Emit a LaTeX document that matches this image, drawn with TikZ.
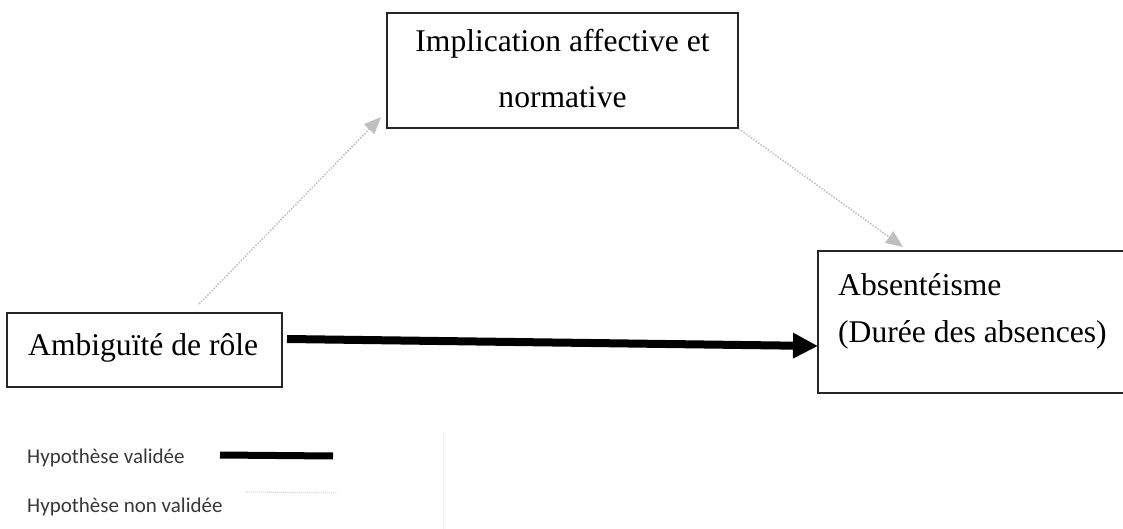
\documentclass[tikz,border=0pt]{standalone}
\usepackage{fontspec}
\setmainfont{Liberation Serif}
\newfontfamily\legendfont{Carlito}
\usetikzlibrary{arrows.meta}
\definecolor{hypgray}{HTML}{BFBFBF}
\definecolor{faintgray}{HTML}{D4D4D4}
\definecolor{edgegray}{HTML}{F3F3F3}
\begin{document}
\begin{tikzpicture}[x=1pt,y=-1pt,
  varbox/.style={draw=black!85,line width=1.3pt,rectangle,inner sep=0pt},
  label/.style={font=\fontsize{31.6}{38}\selectfont,inner sep=0pt},
  legtext/.style={font=\legendfont\fontsize{21}{24}\selectfont,text=black!78,inner sep=0pt,anchor=base west},
  nonvalid/.style={draw=hypgray,line width=1.5pt,dash pattern=on 1.5pt off 1.5pt,
    -{Triangle[length=17pt,width=14pt,fill=hypgray]}},
  valid/.style={draw=black,line width=8pt,-{Triangle[length=25pt,width=24pt]}}]
\useasboundingbox (0,0) rectangle (1123,529);
\clip (0,0) rectangle (1123,529);
\fill[white] (0,0) rectangle (1123,529);

% variable boxes
\node[varbox,minimum width=351pt,minimum height=115pt] (top) at (562.5,70.5) {};
\node[varbox,minimum width=275pt,minimum height=74pt] (left) at (144.5,350) {};
\node[varbox,minimum width=317pt,minimum height=142pt] (right) at (976.5,322) {};

% box texts
\node[label,anchor=base] (t1) at (562.5,52) {Implication affective et};
\node[label,anchor=base] (t2) at (562.5,108) {normative};
\node[label,anchor=base west] (l1) at (28,355) {Ambiguïté de rôle};
\node[label,anchor=base west] (r1) at (838,295) {Absentéisme};
\node[label,anchor=base west] (r2) at (838,342) {(Durée des absences)};

% connectors
\coordinate (a1s) at (199,304);
\coordinate (a1e) at (381,117);
\coordinate (a2e) at (903,247);
\coordinate (a3s) at (287,339);
\coordinate (a3e) at (818,346);
\draw[nonvalid] (a1s) -- (a1e);
\draw[nonvalid] (top.south east) -- (a2e);
\draw[valid] (a3s) -- (a3e);

% legend
\node[legtext] (leg1) at (27,463) {Hypothèse validée};
\node[legtext] (leg2) at (27,512) {Hypothèse non validée};
\coordinate (lg1s) at (220,455);
\coordinate (lg1e) at (333,456);
\coordinate (lg2s) at (245,492);
\coordinate (lg2e) at (337,493);
\draw[black,line width=7pt] (lg1s) -- (lg1e);
\draw[faintgray,line width=1pt,dash pattern=on 1pt off 1pt] (lg2s) -- (lg2e);
\coordinate (edgetop) at (443,432);
\coordinate (edgebot) at (443,529);
\draw[edgegray,line width=0.8pt] (edgetop) -- (edgebot);
\end{tikzpicture}
\end{document}
